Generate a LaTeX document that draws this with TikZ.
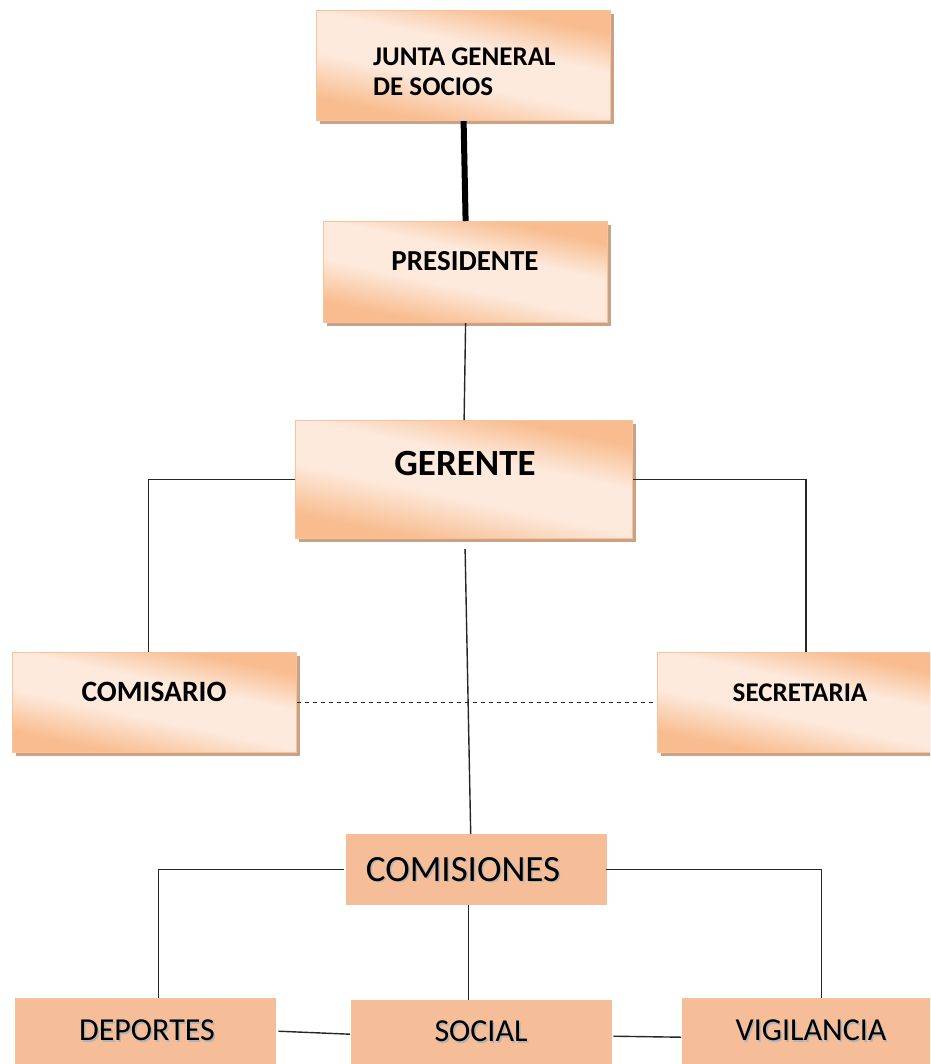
\documentclass[tikz,border=0pt]{standalone}
\usepackage{fontspec}
\setmainfont{Carlito}
\usetikzlibrary{shadows}
\definecolor{dk}{HTML}{F8BC8E}
\definecolor{lt}{HTML}{FDEADD}
\definecolor{boxline}{HTML}{F7C39D}
\definecolor{shad}{HTML}{C9A286}
\definecolor{flat}{HTML}{F5BE98}
\pgfdeclareverticalshading{office}{100bp}{color(0bp)=(dk); color(28bp)=(dk); color(44bp)=(lt); color(58bp)=(lt); color(72bp)=(dk); color(100bp)=(dk)}
\newcommand{\shd}[1]{\rlap{\kern1.5pt\raisebox{-1.5pt}{\textcolor{black!30}{#1}}}#1}
\tikzset{
  gbox/.style={draw=boxline, line width=1.2pt, shading=office, shading angle=-12,
    general shadow={fill=shad, shadow xshift=3pt, shadow yshift=-3pt}, inner sep=0pt, anchor=north west},
  fbox/.style={fill=flat, draw=none, inner sep=0pt, anchor=north west},
  btxt/.style={inner sep=0pt, text=black},
  rtxt/.style={inner sep=0pt, text=black},
  conn/.style={draw=black!85, line width=1.4pt},
}
\begin{document}
\begin{tikzpicture}[x=1pt,y=-1pt]
\useasboundingbox (0,0) rectangle (930,1064);
\clip (0,0) rectangle (930,1064);
% boxes
\node[gbox, minimum width=294pt, minimum height=110pt] (junta) at (316,10) {};
\node[gbox, minimum width=284pt, minimum height=101pt] (pres) at (323,221) {};
\node[gbox, minimum width=337pt, minimum height=118pt] (ger) at (295,420) {};
\node[gbox, minimum width=284pt, minimum height=100pt] (comis) at (12,652) {};
\node[gbox, minimum width=285pt, minimum height=100pt] (secr) at (657,652) {};
\node[fbox, minimum width=261pt, minimum height=71pt] (comisiones) at (346,834) {};
\node[fbox, minimum width=261pt, minimum height=80pt] (dep) at (15,998) {};
\node[fbox, minimum width=261pt, minimum height=80pt] (soc) at (351,1000) {};
\node[fbox, minimum width=260pt, minimum height=80pt] (vig) at (682,998) {};
% texts
\node[btxt, font=\fontsize{27}{30}\selectfont\bfseries, align=left, anchor=west] (juntat) at (373,72) {JUNTA GENERAL\\DE SOCIOS};
\node[btxt, font=\fontsize{29}{30}\selectfont\bfseries] (prest) at (465,261) {PRESIDENTE};
\node[btxt, font=\fontsize{37}{40}\selectfont\bfseries] (gert) at (465,463) {GERENTE};
\node[btxt, font=\fontsize{29.5}{30}\selectfont\bfseries] (comist) at (154,692) {COMISARIO};
\node[btxt, font=\fontsize{27}{30}\selectfont\bfseries] (secrt) at (800,693) {SECRETARIA};
\node[rtxt, font=\fontsize{37}{40}\selectfont] (comisionest) at (463,870) {\shd{COMISIONES}};
\node[rtxt, font=\fontsize{32}{36}\selectfont] (dept) at (147,1031) {\shd{DEPORTES}};
\node[rtxt, font=\fontsize{32}{36}\selectfont] (soct) at (481,1032) {\shd{SOCIAL}};
\node[rtxt, font=\fontsize{32}{36}\selectfont] (vigt) at (811,1031) {\shd{VIGILANCIA}};
% connectors
\draw[line width=6pt] (junta.south) -- (pres.north);
\draw[conn] (pres.south) -- (ger.north);
\draw[conn] (ger.west) -| ([xshift=-6pt]comis.north);
\draw[conn] (ger.east) -| ([xshift=6pt]secr.north);
\draw[conn] ([xshift=1pt,yshift=-10pt]ger.south) -- ([xshift=-6pt]comisiones.north);
\draw[conn, line width=1.2pt, dash pattern=on 4pt off 4pt] (comis.east) -- (secr.west);
\draw[conn] ([xshift=-2pt]comisiones.west) -| ([xshift=13pt]dep.north);
\draw[conn] ([xshift=-1pt]comisiones.east) -| ([xshift=9pt]vig.north);
\draw[conn] ([xshift=-8pt]comisiones.south) -- ([xshift=-8pt]comisiones.south |- soc.north);
\draw[conn] ([xshift=2pt,yshift=7pt]dep.east) -- ([xshift=-1pt,yshift=6pt]soc.west);
\draw[conn] ([xshift=1pt,yshift=4pt]soc.east) -- ([xshift=-1pt,yshift=1pt]vig.west);
\end{tikzpicture}
\end{document}
